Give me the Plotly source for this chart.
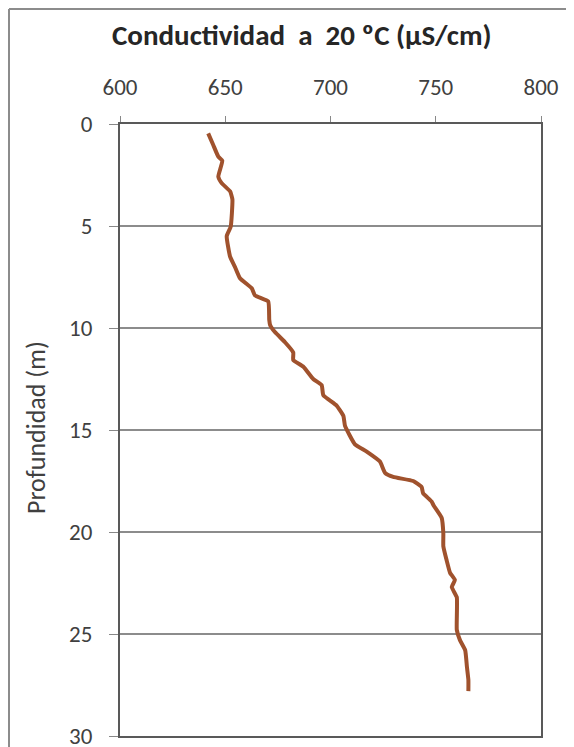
import plotly.graph_objects as go

depth_m = [0.46, 1.03, 1.6, 1.8, 2.58, 2.9, 3.3, 3.7, 5.03, 5.5, 6.5, 7.0, 7.56, 8.05, 8.4, 8.7,
           9.6, 9.85, 10.2, 10.7, 11.2, 11.57, 11.9, 12.5, 12.8, 13.3, 13.8, 14.3, 14.8, 15.7,
           16.06, 16.55, 17.1, 17.3, 17.5, 17.8, 18.1, 18.5, 18.7, 19.3, 20.06, 20.7, 21.4,
           22.0, 22.35, 22.7, 23.2, 24.8, 25.3, 25.8, 26.6, 27.25, 27.8]
conductivity = [641.9, 644.3, 646.7, 648.6, 646.7, 648.3, 652.3, 653.4, 652.6, 650.7, 652.3,
                654.6, 657.0, 662.6, 664.1, 670.4, 670.9, 671.3, 673.6, 678.4, 682.3, 682.3,
                687.1, 691.8, 695.8, 696.6, 702.9, 706.1, 706.9, 711.6, 717.2, 723.5, 725.9,
                729.8, 739.3, 743.3, 744.0, 748.0, 749.0, 752.8, 753.6, 753.6, 755.2, 756.8,
                759.1, 757.6, 760.0, 760.0, 761.5, 764.0, 764.8, 765.5, 765.5]

x_ticks = [600, 650, 700, 750, 800]
y_ticks = [0, 5, 10, 15, 20, 25, 30]

title_text = "Conductividad&nbsp;&nbsp;a&nbsp;&nbsp;20 ºC (µS/cm)"
y_title = "Profundidad (m)"

FONT = "Carlito, Calibri, Lato, sans-serif"

fig = go.Figure()
fig.add_trace(go.Scatter(
    x=conductivity, y=depth_m, mode="lines",
    line=dict(color="#A0522D", width=4, shape="spline", smoothing=0.4),
    showlegend=False, hoverinfo="skip"))

# page has an 8px body margin; work in page pixels and shift
OFF = 8
W, H = 574 - 2 * OFF, 747 - OFF
L, T = 120 - OFF, 124 - OFF
R = W + OFF - 541
B = H + OFF - 736
pw, ph = W - L - R, H - T - B

def px_x(p):
    return (p - OFF - L) / pw

def px_y(p):
    return (H - B - (p - OFF)) / ph

frame = dict(color="#8C8C8C", width=2)

fig.update_layout(
    width=W, height=H,
    margin=dict(l=L, r=R, t=T, b=B, autoexpand=False),
    paper_bgcolor="white", plot_bgcolor="white",
    font=dict(family=FONT, color="#404040", size=23),
    xaxis=dict(
        side="top", range=[600, 800], tickvals=x_ticks, automargin=False,
        showgrid=False, zeroline=False,
        showline=True, mirror=True, linecolor="#595959", linewidth=2,
        ticks="outside", ticklen=6, tickcolor="#888888", tickwidth=1,
        ticklabelstandoff=12, ticklabeloverflow="allow",
        tickfont=dict(family=FONT, size=23, color="#404040"),
    ),
    yaxis=dict(
        range=[30, 0], tickvals=y_ticks, automargin=False,
        showgrid=True, gridcolor="#8C8C8C", gridwidth=2, zeroline=False,
        showline=True, mirror=True, linecolor="#595959", linewidth=2,
        ticks="outside", ticklen=9, tickcolor="#888888", tickwidth=1,
        ticklabelstandoff=12, ticklabeloverflow="allow",
        tickfont=dict(family=FONT, size=23, color="#404040"),
    ),
    shapes=[
        dict(type="line", xref="paper", yref="paper",
             x0=px_x(9), x1=px_x(600), y0=px_y(9), y1=px_y(9), line=frame, layer="below"),
        dict(type="line", xref="paper", yref="paper",
             x0=px_x(9), x1=px_x(9), y0=px_y(9), y1=px_y(780), line=frame, layer="below"),
    ],
    annotations=[
        dict(text="<b>" + title_text + "</b>", xref="paper", yref="paper",
             x=px_x(302), y=px_y(35), xanchor="center", yanchor="middle",
             showarrow=False, font=dict(family=FONT, size=29, color="#262626")),
        dict(text=y_title, xref="paper", yref="paper", textangle=-90,
             x=px_x(36), y=px_y(428), xanchor="center", yanchor="middle",
             showarrow=False, font=dict(family=FONT, size=26, color="#404040")),
    ],
)

fig.write_html("out.html", config={"displayModeBar": False})
